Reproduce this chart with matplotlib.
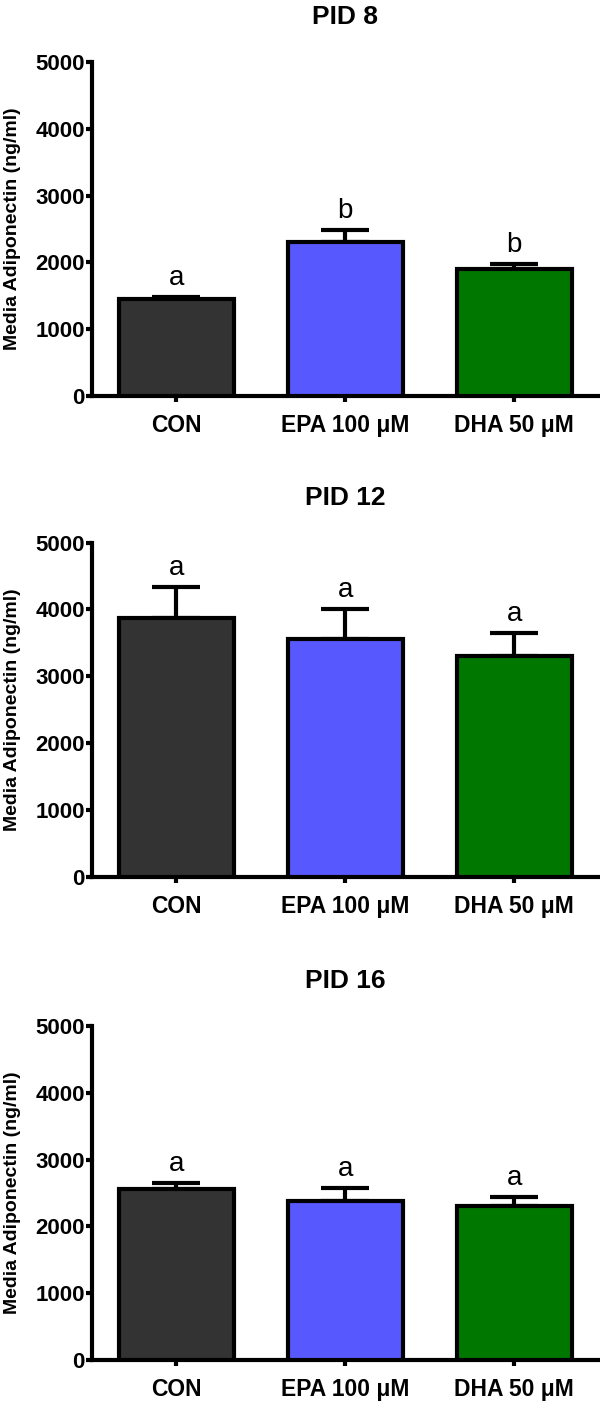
import matplotlib
matplotlib.use("Agg")
import matplotlib.pyplot as plt
import numpy as np

plt.rcParams['font.family'] = ['Liberation Sans', 'DejaVu Sans']

groups = ['CON', 'EPA 100 μM', 'DHA 50 μM']
colors = ['#333333', '#5858FF', '#007800']
titles = ['PID 8', 'PID 12', 'PID 16']

# mean and SEM per panel
pid8_mean = [1450, 2300, 1900]
pid8_sem = [30, 190, 80]
pid8_letters = ['a', 'b', 'b']

pid12_mean = [3870, 3560, 3300]
pid12_sem = [460, 450, 350]
pid12_letters = ['a', 'a', 'a']

pid16_mean = [2560, 2380, 2305]
pid16_sem = [95, 190, 140]
pid16_letters = ['a', 'a', 'a']

panels = [
    (pid8_mean, pid8_sem, pid8_letters),
    (pid12_mean, pid12_sem, pid12_letters),
    (pid16_mean, pid16_sem, pid16_letters),
]

fig = plt.figure(figsize=(6, 14.07), dpi=100)
# axes rectangles [left, bottom, width, height] in figure fraction
rects = [
    [0.153, 0.7186, 0.845, 0.2374],
    [0.153, 0.3769, 0.845, 0.2374],
    [0.153, 0.0334, 0.845, 0.2374],
]

lw = 3.0
x = np.arange(len(groups))

for rect, title, (mean, sem, letters) in zip(rects, titles, panels):
    ax = fig.add_axes(rect)
    ax.bar(x, mean, width=0.68, color=colors, edgecolor='black', linewidth=lw, zorder=3)
    ax.errorbar(x, mean, yerr=[np.zeros(len(sem)), sem], fmt='none', ecolor='black',
                elinewidth=lw, capsize=17, capthick=lw, zorder=2)
    for xi, m, s, let in zip(x, mean, sem, letters):
        ax.text(xi, m + s + 90, let, ha='center', va='bottom', fontsize=20)

    ax.set_xlim(-0.5, 2.5)
    ax.set_ylim(0, 5000)
    ax.set_yticks([0, 1000, 2000, 3000, 4000, 5000])
    ax.set_xticks(x)
    ax.set_xticklabels(groups)
    for s in ['top', 'right']:
        ax.spines[s].set_visible(False)
    for s in ['left', 'bottom']:
        ax.spines[s].set_linewidth(lw)
    ax.tick_params(axis='both', width=lw, length=4)
    ax.tick_params(axis='y', pad=1, labelsize=16)
    ax.tick_params(axis='x', pad=9, labelsize=16.5)
    for lab in ax.get_xticklabels() + ax.get_yticklabels():
        lab.set_fontweight('bold')
    ax.set_ylabel('Media Adiponectin (ng/ml)', fontsize=14, fontweight='bold', labelpad=10)
    ax.set_title(title, fontsize=19, fontweight='bold', pad=27)

fig.savefig('out.png', dpi=100)
